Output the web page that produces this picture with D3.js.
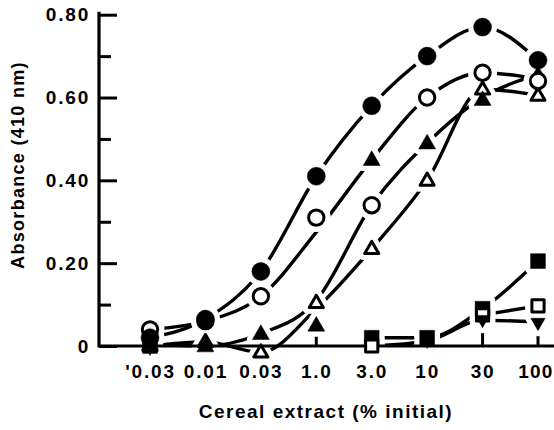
<!DOCTYPE html>
<html><head><meta charset="utf-8">
<script src="https://cdn.jsdelivr.net/npm/d3@7"></script>
<style>
html,body{margin:0;padding:0;background:#fff;}
text{font-family:"Liberation Sans",Arial,Helvetica,sans-serif;font-weight:bold;fill:#000;}
</style></head>
<body>
<svg id="c" width="554" height="430"></svg>
<script>
// ---- data ----
const categories = ["'0.03","0.01","0.03","1.0","3.0","10","30","100"];
const yTicksMajor = [0, 0.2, 0.4, 0.6, 0.8];
const yTickLabels = ["0","0.20","0.40","0.60","0.80"];
const yTicksMinor = [0.1, 0.3, 0.5, 0.7];

// plotted points
const filledCircle   = [0.02, 0.065, 0.18, 0.41, 0.58, 0.70, 0.77, 0.69];
const openCircle     = [0.04, 0.06, 0.12, 0.31, 0.34, 0.60, 0.66, 0.64];
const filledTriangle = [0.005, 0.0, 0.03, 0.05, 0.45, 0.49, 0.595, 0.655];
const openTriangle   = [0.0, 0.01, -0.015, 0.105, 0.235, 0.40, 0.62, 0.605];
const filledSquare   = [0.0, null, null, null, 0.02, 0.02, 0.09, 0.205];
const openSquare     = [null, null, null, null, 0.0, null, 0.075, 0.097];
const filledInvTri   = [-0.005, null, null, null, null, 0.012, 0.062, 0.055];
// vertical stems from a point down to zero: [category, value]
const stems = [["1.0", 0.05], ["30", 0.062], ["100", 0.055]];

// fitted curves (as drawn in the picture)
const curveA = [0.02, 0.065, 0.18, 0.41, 0.58, 0.70, 0.77, 0.69];
const curveB = [0.04, 0.06, 0.12, 0.275, 0.45, 0.60, 0.66, 0.645];
const curveC = [0.005, 0.0, 0.03, 0.11, 0.34, 0.49, 0.60, 0.655];
const curveD = [0.0, 0.01, -0.015, 0.09, 0.235, 0.40, 0.62, 0.605];
const curveE = [null, null, null, null, 0.02, 0.02, 0.09, 0.205];
const curveF = [null, null, null, null, null, null, 0.075, 0.097];
const curveG = [null, null, null, null, 0.0, 0.012, 0.062, 0.058];

const xTitle = "Cereal extract (% initial)";
const yTitle = "Absorbance (410 nm)";

// ---- drawing ----
const svg = d3.select("#c");
const x = d3.scalePoint().domain(categories).range([150, 538]);
const y = d3.scaleLinear().domain([0, 0.8]).range([346, 14.7]);

const curves = [curveA, curveB, curveC, curveD, curveE, curveF, curveG];
const series = [
  {v: filledSquare, shape: "square", fill: true},
  {v: openSquare, shape: "square", fill: false},
  {v: filledInvTri, shape: "invtri", fill: true},
  {v: openTriangle, shape: "triangle", fill: false},
  {v: filledTriangle, shape: "triangle", fill: true},
  {v: openCircle, shape: "circle", fill: false},
  {v: filledCircle, shape: "circle", fill: true}
];

const line = d3.line()
  .defined(d => d.v !== null)
  .x(d => x(d.c)).y(d => y(d.v))
  .curve(d3.curveMonotoneX);

const gLines = svg.append("g");
curves.forEach(cv => {
  const pts = categories.map((c, i) => ({c, v: cv[i]}));
  gLines.append("path").attr("d", line(pts))
    .attr("fill", "none").attr("stroke", "#000").attr("stroke-width", 3.4)
    .attr("stroke-linecap", "round");
});

// stems
svg.append("g").selectAll("line").data(stems).join("line")
  .attr("x1", d => x(d[0])).attr("x2", d => x(d[0]))
  .attr("y1", d => y(d[1])).attr("y2", y(0))
  .attr("stroke", "#000").attr("stroke-width", 3);

function shapePath(shape, r) {
  if (shape === "circle") return d3.symbol(d3.symbolCircle, Math.PI * r * r)();
  if (shape === "square") return `M${-r},${-r}H${r}V${r}H${-r}Z`;
  const h = r * 1.9, w = r * 1.1;
  if (shape === "triangle") return `M0,${-h*0.6}L${w},${h*0.4}L${-w},${h*0.4}Z`;
  return `M0,${h*0.6}L${w},${-h*0.4}L${-w},${-h*0.4}Z`;
}
const sizeOf = {circle: 9, square: 7.4, triangle: 7.7, invtri: 6.5};

// white halos to break lines around markers
const gHalo = svg.append("g");
series.forEach(s => {
  categories.forEach((c, i) => {
    if (s.v[i] === null) return;
    gHalo.append("path").attr("d", shapePath(s.shape, sizeOf[s.shape]))
      .attr("transform", `translate(${x(c)},${y(s.v[i])})`)
      .attr("fill", "#fff").attr("stroke", "#fff").attr("stroke-width", 11)
      .attr("stroke-linejoin", "round");
  });
});

// axes
const fontAttrs = sel => sel.attr("font-size", 19).attr("letter-spacing", 1.8)
  .attr("font-family", "Liberation Sans, Arial, sans-serif").attr("font-weight", "bold");
const yAxis = d3.axisLeft(y).tickValues(yTicksMajor)
  .tickFormat((d, i) => yTickLabels[i]).tickSize(-18).tickPadding(9);
const gy = svg.append("g").attr("transform", "translate(99,0)").call(yAxis);
gy.select(".domain").remove();
gy.selectAll(".tick line").attr("stroke", "#000").attr("stroke-width", 3);
gy.selectAll(".tick text").call(fontAttrs);
const gym = svg.append("g").attr("transform", "translate(99,0)")
  .call(d3.axisLeft(y).tickValues(yTicksMinor).tickFormat("").tickSize(-12));
gym.select(".domain").remove();
gym.selectAll(".tick line").attr("stroke", "#000").attr("stroke-width", 3);
svg.append("line").attr("x1", 99).attr("x2", 99).attr("y1", y(0.8) - 3).attr("y2", y(0) + 1.5)
  .attr("stroke", "#000").attr("stroke-width", 3.2);
svg.append("line").attr("x1", 99).attr("x2", 554).attr("y1", y(0)).attr("y2", y(0))
  .attr("stroke", "#000").attr("stroke-width", 3);

const xAxis = d3.axisBottom(x).tickSize(0).tickPadding(19);
const gx = svg.append("g").attr("transform", `translate(0,${y(0)})`).call(xAxis);
gx.select(".domain").remove();
gx.selectAll(".tick text").call(fontAttrs);
// keep the last label inside the picture
gx.selectAll(".tick text").filter(d => d === categories[categories.length - 1])
  .attr("text-anchor", "end").attr("letter-spacing", 1.2).attr("x", 553 - x(categories[categories.length - 1]));

// markers
const gMarks = svg.append("g");
series.forEach(s => {
  categories.forEach((c, i) => {
    if (s.v[i] === null) return;
    const r = sizeOf[s.shape] - (s.fill ? 0 : 1.3);
    gMarks.append("path").attr("d", shapePath(s.shape, r))
      .attr("transform", `translate(${x(c)},${y(s.v[i])})`)
      .attr("fill", s.fill ? "#000" : "#fff").attr("stroke", "#000")
      .attr("stroke-width", s.fill ? 0.5 : 3).attr("stroke-linejoin", "round");
  });
});

// titles
svg.append("text").attr("x", 326).attr("y", 418).attr("text-anchor", "middle")
  .attr("font-size", 19).attr("letter-spacing", 1.5).text(xTitle);
svg.append("text").attr("transform", "translate(24,165) rotate(-90)")
  .attr("text-anchor", "middle").attr("font-size", 18).attr("letter-spacing", 1.3).text(yTitle);
</script>
</body></html>
